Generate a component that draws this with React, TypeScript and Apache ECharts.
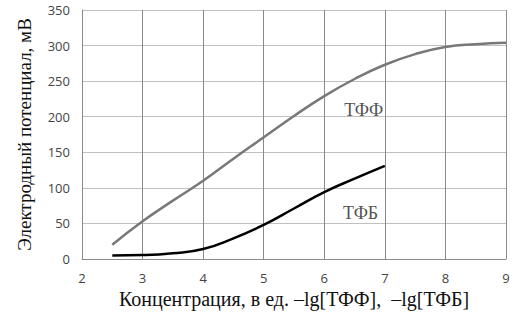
import React, { useEffect, useRef } from "react";
import * as echarts from "echarts";

const tffX = [2.5, 3, 3.5, 4, 4.5, 5, 5.5, 6, 6.5, 7, 7.5, 8, 8.5, 9];
const tffY = [20, 53, 82, 110, 141, 171, 201, 229, 253, 273, 288, 298, 302, 304];
const tfbX = [2.5, 3, 3.5, 4, 4.5, 5, 5.5, 6, 6.5, 7];
const tfbY = [5, 5.5, 8, 14, 29, 48, 71, 94, 113, 131];
const seriesLabels = ["ТФФ", "ТФБ"];
const labelPos = [[6.65, 210], [6.6, 64]];
const xTitle = "Концентрация, в ед. –lg[ТФФ],  –lg[ТФБ]";
const yTitle = "Электродный потенциал, мВ";

export default function App() {
  const ref = useRef<HTMLDivElement>(null);
  useEffect(() => {
    const chart = echarts.init(ref.current!, null, { renderer: "svg" });
    const serif = "Liberation Serif";
    chart.setOption({
      animation: false,
      grid: { left: 82, right: 9, top: 10, bottom: 53 },
      xAxis: {
        type: "value",
        min: 2,
        max: 9,
        interval: 1,
        name: xTitle,
        nameLocation: "middle",
        nameGap: 30,
        nameTextStyle: { fontFamily: serif, fontSize: 20, color: "#111" },
        axisLine: { show: true, lineStyle: { color: "#8a8a8a", width: 1 } },
        axisTick: { show: false },
        axisLabel: { color: "#444", fontSize: 13, fontFamily: "Open Sans", margin: 12 },
        splitLine: { show: true, lineStyle: { color: "#8a8a8a", width: 1 } },
      },
      yAxis: {
        type: "value",
        min: 0,
        max: 350,
        interval: 50,
        name: yTitle,
        nameLocation: "middle",
        nameGap: 48,
        nameTextStyle: { fontFamily: serif, fontSize: 19, color: "#111" },
        axisLine: { show: true, lineStyle: { color: "#8a8a8a", width: 1 } },
        axisTick: { show: false },
        axisLabel: { color: "#444", fontSize: 13, fontFamily: "Open Sans", margin: 12 },
        splitLine: { show: true, lineStyle: { color: "#c0c0c0", width: 1 } },
      },
      series: [
        {
          type: "line",
          name: seriesLabels[0],
          data: tffX.map((x, i) => [x, tffY[i]]),
          smooth: true,
          showSymbol: false,
          lineStyle: { color: "#787878", width: 2.5 },
        },
        {
          type: "line",
          name: seriesLabels[1],
          data: tfbX.map((x, i) => [x, tfbY[i]]),
          smooth: true,
          showSymbol: false,
          lineStyle: { color: "#000", width: 2.5 },
        },
        {
          type: "scatter",
          symbolSize: 1,
          itemStyle: { color: "rgba(0,0,0,0)" },
          data: labelPos.map((p, i) => ({ value: p, name: seriesLabels[i] })),
          label: {
            show: true,
            position: "inside",
            formatter: (p: any) => p.name,
            fontFamily: serif,
            fontSize: 18,
            color: "#222",
          },
        },
      ],
    });
    return () => chart.dispose();
  }, []);
  return <div ref={ref} style={{ width: 515, height: 314, position: "absolute", left: 0, top: 0 }} />;
}
